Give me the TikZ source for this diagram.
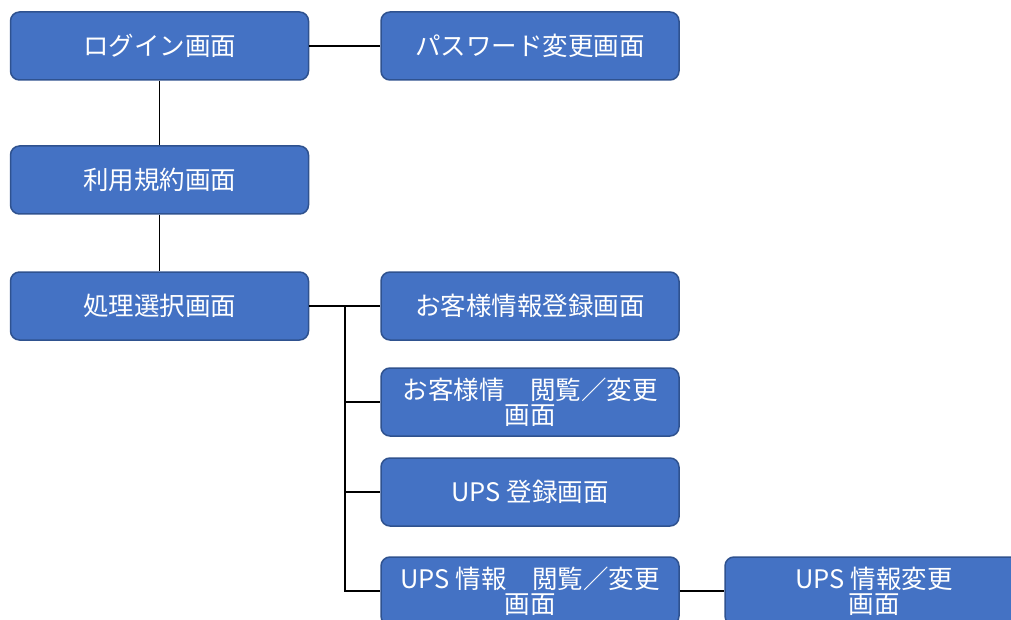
\documentclass[tikz,border=0pt]{standalone}
\usepackage{fontspec}
\newfontfamily\jp{Noto Sans CJK JP}
\definecolor{boxfill}{HTML}{4472C4}
\definecolor{boxline}{HTML}{2F528F}
\begin{document}
\begin{tikzpicture}[x=1pt,y=-1pt,
  box/.style={draw=boxline, line width=1.5pt, fill=boxfill, rounded corners=9pt,
    minimum width=298pt, minimum height=68pt, inner sep=0pt, text=white,
    align=center, font=\jp\fontsize{25.5}{25}\selectfont},
  link/.style={draw=black, line width=1.1pt}]
\useasboundingbox (0,0) rectangle (1011,620);
\clip (0,0) rectangle (1011,620);
\node[box] (login) at (159.5,46) {ログイン画面};
\node[box] (pw) at (530,46) {パスワード変更画面};
\node[box] (terms) at (159.5,180) {利用規約画面};
\node[box] (proc) at (159.5,306) {処理選択画面};
\node[box] (c1) at (530,306) {お客様情報登録画面};
\node[box] (c2) at (530,402) {お客様情　閲覧／変更\\画面};
\node[box] (c3) at (530,492) {UPS 登録画面};
\node[box] (c4) at (530,591) {UPS 情報　閲覧／変更\\画面};
\node[box] (c5) at (874,591) {UPS 情報変更\\画面};
\coordinate (j) at (345,306);
\draw[link] (login) -- (pw);
\draw[link] (login) -- (terms);
\draw[link] (terms) -- (proc);
\draw[link] (proc) -- (c1);
\draw[link] (j) |- (c2.west);
\draw[link] (j) |- (c3.west);
\draw[link] (j) |- (c4.west);
\draw[link] (c4) -- (c5);
\end{tikzpicture}
\end{document}
